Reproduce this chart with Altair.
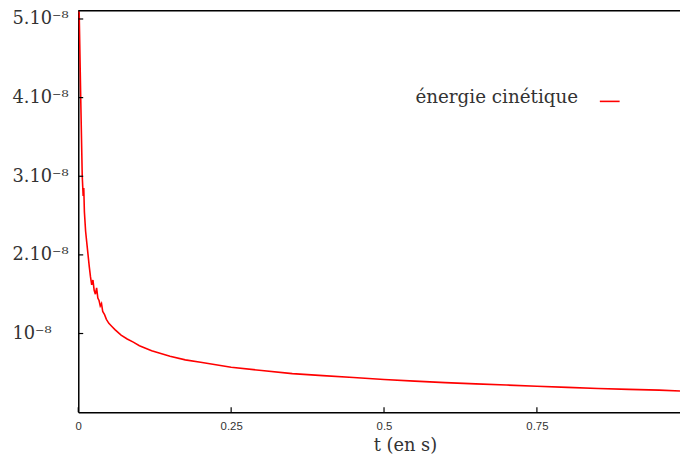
import altair as alt
import pandas as pd

# ---- data ----
t_values = [0.000, 0.0015, 0.004, 0.0065, 0.008, 0.009, 0.010, 0.012, 0.014, 0.016,
            0.018, 0.020, 0.022, 0.024, 0.026, 0.028, 0.030, 0.032, 0.034, 0.036,
            0.038, 0.040, 0.043, 0.046, 0.050, 0.055, 0.060, 0.070, 0.080, 0.090,
            0.100, 0.120, 0.150, 0.175, 0.200, 0.250, 0.300, 0.350, 0.400, 0.450,
            0.500, 0.550, 0.600, 0.650, 0.700, 0.750, 0.800, 0.850, 0.900, 0.950, 0.984]
ke_e8 = [5.10, 5.08, 4.00, 3.00, 2.75, 2.85, 2.55, 2.30, 2.15, 2.00,
         1.85, 1.72, 1.62, 1.68, 1.55, 1.50, 1.58, 1.45, 1.42, 1.35,
         1.38, 1.28, 1.24, 1.18, 1.13, 1.09, 1.05, 0.98, 0.93, 0.89,
         0.845, 0.78, 0.71, 0.665, 0.635, 0.57, 0.53, 0.49, 0.465, 0.44,
         0.415, 0.395, 0.375, 0.36, 0.345, 0.33, 0.315, 0.30, 0.29, 0.28, 0.27]
series_name = "énergie cinétique"

x_ticks = [0, 0.25, 0.5, 0.75]
x_tick_labels = ["0", "0.25", "0.5", "0.75"]
y_ticks = [1e-8, 2e-8, 3e-8, 4e-8, 5e-8]
y_tick_labels = ["10⁻⁸", "2.10⁻⁸", "3.10⁻⁸", "4.10⁻⁸", "5.10⁻⁸"]
x_title = "t (en s)"

# ---- build tables ----
df = pd.DataFrame({"t": t_values, "E": [v * 1e-8 for v in ke_e8]})
xt = pd.DataFrame({"t": x_ticks})
yt = pd.DataFrame({"E": y_ticks})
one = pd.DataFrame({"a": [0]})

W, H = 608, 406
SERIF = "DejaVu Serif"
TXT = "#333333"


def make_expr(vals, labels):
    return " : ".join(
        f"abs(datum.value - {v}) < 1e-12 ? '{l}'" for v, l in zip(vals, labels)
    ) + " : ''"


xscale = alt.Scale(domain=[0, 0.984], nice=False, zero=False)
yscale = alt.Scale(domain=[0, 5.11e-8], nice=False)

x_axis = alt.Axis(values=x_ticks, title=x_title, labelExpr=make_expr(x_ticks, x_tick_labels))
y_axis = alt.Axis(values=y_ticks, labelExpr=make_expr(y_ticks, y_tick_labels), title=None)

line = alt.Chart(df).mark_line(color="#ff0000", strokeWidth=1.6, clip=True).encode(
    x=alt.X("t:Q", scale=xscale, axis=x_axis),
    y=alt.Y("E:Q", scale=yscale, axis=y_axis),
)

xtick = alt.Chart(xt).mark_rule(color="black", strokeWidth=1.2).encode(
    x=alt.X("t:Q", scale=xscale, axis=x_axis),
    y=alt.value(H), y2=alt.value(H - 5),
)
ytick = alt.Chart(yt).mark_rule(color="black", strokeWidth=1.2).encode(
    y=alt.Y("E:Q", scale=yscale, axis=y_axis),
    x=alt.value(0), x2=alt.value(5),
)
top_border = alt.Chart(one).mark_rule(color="black", strokeWidth=1.5).encode(
    x=alt.value(0), x2=alt.value(W), y=alt.value(0.5),
)
legend_text = alt.Chart(pd.DataFrame({"name": [series_name]})).mark_text(
    font=SERIF, fontSize=18.5, color=TXT, align="right", baseline="alphabetic"
).encode(text="name:N", x=alt.value(505), y=alt.value(94))
legend_line = alt.Chart(one).mark_rule(color="#ff0000", strokeWidth=1.6).encode(
    x=alt.value(527), x2=alt.value(547), y=alt.value(92),
)

chart = alt.layer(line, xtick, ytick, top_border, legend_text, legend_line).properties(
    width=W, height=H,
    autosize=alt.AutoSizeParams(type="none"),
    padding={"left": 71, "top": 0, "right": 0, "bottom": 47},
).configure_view(stroke=None).configure(background="white").configure_axis(
    tickSize=0, grid=False, domainColor="black", domainWidth=1.5,
).configure_axisX(
    labelPadding=9, labelFont="Liberation Sans", labelFontSize=11.5, labelColor=TXT,
    labelFlush=False, titleFont=SERIF, titleFontSize=18, titleFontWeight="normal",
    titleColor=TXT, titleX=330, titleY=39, titleAlign="center", titleBaseline="alphabetic",
).configure_axisY(
    labelPadding=67, labelAlign="left", labelFont=SERIF, labelFontSize=18,
    labelColor=TXT, labelBaseline="middle",
)

chart.save("out.html", embed_options={"renderer": "svg", "actions": False})
